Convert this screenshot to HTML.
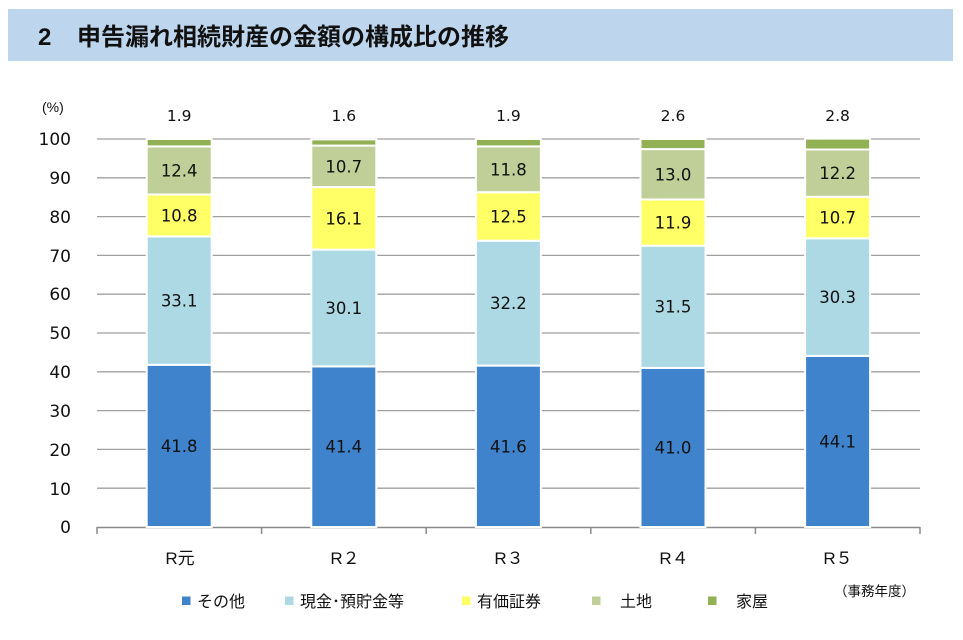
<!DOCTYPE html>
<html><head><meta charset="utf-8">
<style>
html,body{margin:0;padding:0;background:#fff;}
body{width:963px;height:640px;overflow:hidden;}
svg{display:block;}
.n{font-family:"DejaVu Sans","Liberation Sans",sans-serif;fill:#111;}
.j{font-family:"Liberation Sans","Noto Sans CJK JP",sans-serif;fill:#111;}
</style></head>
<body>
<svg width="963" height="640" viewBox="0 0 963 640" xmlns="http://www.w3.org/2000/svg">
<rect x="8" y="9" width="945" height="52" fill="#bdd6ed"/>
<text x="38" y="45" class="j" font-size="24" font-weight="bold" fill="#111">2</text>
<text x="77" y="45" class="j" font-size="24" font-weight="bold">申告漏れ相続財産の金額の構成比の推移</text>

<text x="42" y="112" class="j" font-size="14">(%)</text>

<g stroke="#a0a0a0" stroke-width="1.3">
<line x1="97" y1="139" x2="920" y2="139"/>
<line x1="97" y1="177.8" x2="920" y2="177.8"/>
<line x1="97" y1="216.6" x2="920" y2="216.6"/>
<line x1="97" y1="255.4" x2="920" y2="255.4"/>
<line x1="97" y1="294.2" x2="920" y2="294.2"/>
<line x1="97" y1="333" x2="920" y2="333"/>
<line x1="97" y1="371.8" x2="920" y2="371.8"/>
<line x1="97" y1="410.6" x2="920" y2="410.6"/>
<line x1="97" y1="449.4" x2="920" y2="449.4"/>
<line x1="97" y1="488.2" x2="920" y2="488.2"/>
</g>
<g stroke="#8a8a8a" stroke-width="1.5">
<line x1="97" y1="527.5" x2="920" y2="527.5"/>
<line x1="97" y1="527" x2="97" y2="534"/>
<line x1="261.6" y1="527" x2="261.6" y2="534"/>
<line x1="426.2" y1="527" x2="426.2" y2="534"/>
<line x1="590.8" y1="527" x2="590.8" y2="534"/>
<line x1="755.4" y1="527" x2="755.4" y2="534"/>
<line x1="920" y1="527" x2="920" y2="534"/>
</g>

<g class="n" font-size="17" text-anchor="end">
<text x="71" y="145">100</text>
<text x="71" y="184">90</text>
<text x="71" y="223">80</text>
<text x="71" y="262">70</text>
<text x="71" y="300">60</text>
<text x="71" y="339">50</text>
<text x="71" y="378">40</text>
<text x="71" y="417">30</text>
<text x="71" y="456">20</text>
<text x="71" y="495">10</text>
<text x="71" y="533">0</text>
</g>

<g stroke="#fff" stroke-width="2">
<rect x="146.7" y="364.8" width="65" height="162.2" fill="#3f83cc"/>
<rect x="146.7" y="236.4" width="65" height="128.4" fill="#acd9e4"/>
<rect x="146.7" y="194.5" width="65" height="41.9" fill="#ffff66"/>
<rect x="146.7" y="146.4" width="65" height="48.1" fill="#bfcf97"/>
<rect x="146.7" y="139" width="65" height="7.4" fill="#92b155"/>
<rect x="311.3" y="366.4" width="65" height="160.6" fill="#3f83cc"/>
<rect x="311.3" y="249.6" width="65" height="116.8" fill="#acd9e4"/>
<rect x="311.3" y="187.1" width="65" height="62.5" fill="#ffff66"/>
<rect x="311.3" y="145.6" width="65" height="41.5" fill="#bfcf97"/>
<rect x="311.3" y="139.4" width="65" height="6.2" fill="#92b155"/>
<rect x="475.9" y="365.6" width="65" height="161.4" fill="#3f83cc"/>
<rect x="475.9" y="240.7" width="65" height="124.9" fill="#acd9e4"/>
<rect x="475.9" y="192.2" width="65" height="48.5" fill="#ffff66"/>
<rect x="475.9" y="146.4" width="65" height="45.8" fill="#bfcf97"/>
<rect x="475.9" y="139" width="65" height="7.4" fill="#92b155"/>
<rect x="640.5" y="367.9" width="65" height="159.1" fill="#3f83cc"/>
<rect x="640.5" y="245.7" width="65" height="122.2" fill="#acd9e4"/>
<rect x="640.5" y="199.5" width="65" height="46.2" fill="#ffff66"/>
<rect x="640.5" y="149.1" width="65" height="50.4" fill="#bfcf97"/>
<rect x="640.5" y="139" width="65" height="10.1" fill="#92b155"/>
<rect x="805.1" y="355.9" width="65" height="171.1" fill="#3f83cc"/>
<rect x="805.1" y="238.3" width="65" height="117.6" fill="#acd9e4"/>
<rect x="805.1" y="196.8" width="65" height="41.5" fill="#ffff66"/>
<rect x="805.1" y="149.5" width="65" height="47.3" fill="#bfcf97"/>
<rect x="805.1" y="138.6" width="65" height="10.9" fill="#92b155"/>
</g>

<g class="n" font-size="16.5" text-anchor="middle">
<text x="179.2" y="452">41.8</text>
<text x="179.2" y="306.5">33.1</text>
<text x="179.2" y="221.5">10.8</text>
<text x="179.2" y="176.5">12.4</text>
<text x="343.8" y="452.5">41.4</text>
<text x="343.8" y="314">30.1</text>
<text x="343.8" y="224.5">16.1</text>
<text x="343.8" y="172.5">10.7</text>
<text x="508.4" y="452.5">41.6</text>
<text x="508.4" y="309">32.2</text>
<text x="508.4" y="222.5">12.5</text>
<text x="508.4" y="175.5">11.8</text>
<text x="673" y="453.5">41.0</text>
<text x="673" y="312.5">31.5</text>
<text x="673" y="228.5">11.9</text>
<text x="673" y="180.5">13.0</text>
<text x="837.6" y="447.5">44.1</text>
<text x="837.6" y="303">30.3</text>
<text x="837.6" y="223.5">10.7</text>
<text x="837.6" y="179">12.2</text>
</g>
<g class="n" font-size="15.5" text-anchor="middle">
<text x="179.2" y="121">1.9</text>
<text x="343.8" y="121">1.6</text>
<text x="508.4" y="121">1.9</text>
<text x="673" y="121">2.6</text>
<text x="837.6" y="121">2.8</text>
</g>

<g class="j" font-size="17" text-anchor="middle">
<text x="180" y="564">R元</text>
<text x="345" y="564">R２</text>
<text x="509" y="564">R３</text>
<text x="674" y="564">R４</text>
<text x="838" y="564">R５</text>
</g>

<text x="834" y="596" class="j" font-size="13.5">（事務年度）</text>

<rect x="182" y="596.5" width="8.5" height="8.5" fill="#3f83cc"/>
<text x="197" y="607" class="j" font-size="16">その他</text>
<rect x="285" y="596.5" width="8.5" height="8.5" fill="#acd9e4"/>
<text x="300" y="607" class="j" font-size="16">現金･預貯金等</text>
<rect x="462" y="596.5" width="8.5" height="8.5" fill="#ffff66"/>
<text x="477" y="607" class="j" font-size="16">有価証券</text>
<rect x="592" y="596.5" width="8.5" height="8.5" fill="#bfcf97"/>
<text x="620" y="607" class="j" font-size="16">土地</text>
<rect x="708" y="596.5" width="8.5" height="8.5" fill="#92b155"/>
<text x="736" y="607" class="j" font-size="16">家屋</text>
</svg>
</body></html>
